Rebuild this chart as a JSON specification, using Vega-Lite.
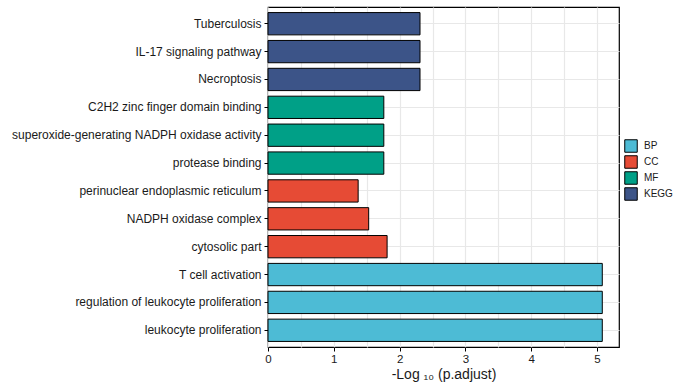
{
  "$schema": "https://vega.github.io/schema/vega-lite/v6.json",
  "autosize": "none",
  "width": 351,
  "height": 340,
  "padding": {"left": 268, "top": 7, "right": 63, "bottom": 40},
  "background": "white",
  "config": {
    "font": "Liberation Sans",
    "view": {"stroke": "black", "strokeWidth": 1.2}
  },
  "data": {
    "values": [
      {"term": "Tuberculosis", "category": "KEGG", "value": 2.31},
      {"term": "IL-17 signaling pathway", "category": "KEGG", "value": 2.31},
      {"term": "Necroptosis", "category": "KEGG", "value": 2.31},
      {"term": "C2H2 zinc finger domain binding", "category": "MF", "value": 1.76},
      {"term": "superoxide-generating NADPH oxidase activity", "category": "MF", "value": 1.76},
      {"term": "protease binding", "category": "MF", "value": 1.76},
      {"term": "perinuclear endoplasmic reticulum", "category": "CC", "value": 1.37},
      {"term": "NADPH oxidase complex", "category": "CC", "value": 1.53},
      {"term": "cytosolic part", "category": "CC", "value": 1.81},
      {"term": "T cell activation", "category": "BP", "value": 5.08},
      {"term": "regulation of leukocyte proliferation", "category": "BP", "value": 5.08},
      {"term": "leukocyte proliferation", "category": "BP", "value": 5.08}
    ]
  },
  "mark": {"type": "bar", "stroke": "black", "strokeWidth": 1},
  "encoding": {
    "y": {
      "field": "term",
      "type": "nominal",
      "sort": null,
      "scale": {"paddingInner": 0.2, "paddingOuter": 0.2},
      "axis": {
        "title": null,
        "domain": false,
        "bandPosition": 0.5,
        "grid": true,
        "gridColor": "#E8E8E8",
        "gridWidth": 1.2,
        "tickColor": "black",
        "tickSize": 4,
        "tickWidth": 1,
        "labelFont": "Liberation Sans",
        "labelFontSize": 12,
        "labelColor": "#1a1a1a",
        "labelPadding": 3,
        "labelLimit": 400
      }
    },
    "x": {
      "field": "value",
      "type": "quantitative",
      "scale": {"domain": [0, 5.334], "nice": false, "zero": true},
      "axis": {
        "title": "-Log ₁₀ (p.adjust)",
        "titleFont": "Liberation Sans",
        "titleFontSize": 14,
        "titleFontWeight": "normal",
        "titleColor": "#1a1a1a",
        "titlePadding": 3,
        "domain": false,
        "values": [0, 0.5, 1, 1.5, 2, 2.5, 3, 3.5, 4, 4.5, 5],
        "labelExpr": "datum.value % 1 === 0 ? format(datum.value, 'd') : ''",
        "grid": true,
        "gridColor": "#E8E8E8",
        "gridWidth": 1.2,
        "tickColor": "black",
        "tickSize": 4,
        "tickWidth": 1,
        "tickOpacity": {"condition": {"test": "datum.value % 1 !== 0", "value": 0}, "value": 1},
        "labelFont": "Liberation Sans",
        "labelFontSize": 11.5,
        "labelColor": "#1a1a1a",
        "labelPadding": 2,
        "labelFlush": false
      }
    },
    "color": {
      "field": "category",
      "type": "nominal",
      "scale": {
        "domain": ["BP", "CC", "MF", "KEGG"],
        "range": ["#4DBBD5", "#E64B35", "#00A087", "#3C5488"]
      },
      "legend": {
        "title": null,
        "orient": "none",
        "legendX": 356,
        "legendY": 132,
        "padding": 0,
        "symbolType": "square",
        "symbolSize": 156,
        "symbolStrokeColor": "black",
        "symbolStrokeWidth": 1,
        "symbolOpacity": 1,
        "labelFont": "Liberation Sans",
        "labelFontSize": 10,
        "labelColor": "#1a1a1a",
        "labelOffset": 6,
        "rowPadding": -7.5
      }
    }
  }
}
